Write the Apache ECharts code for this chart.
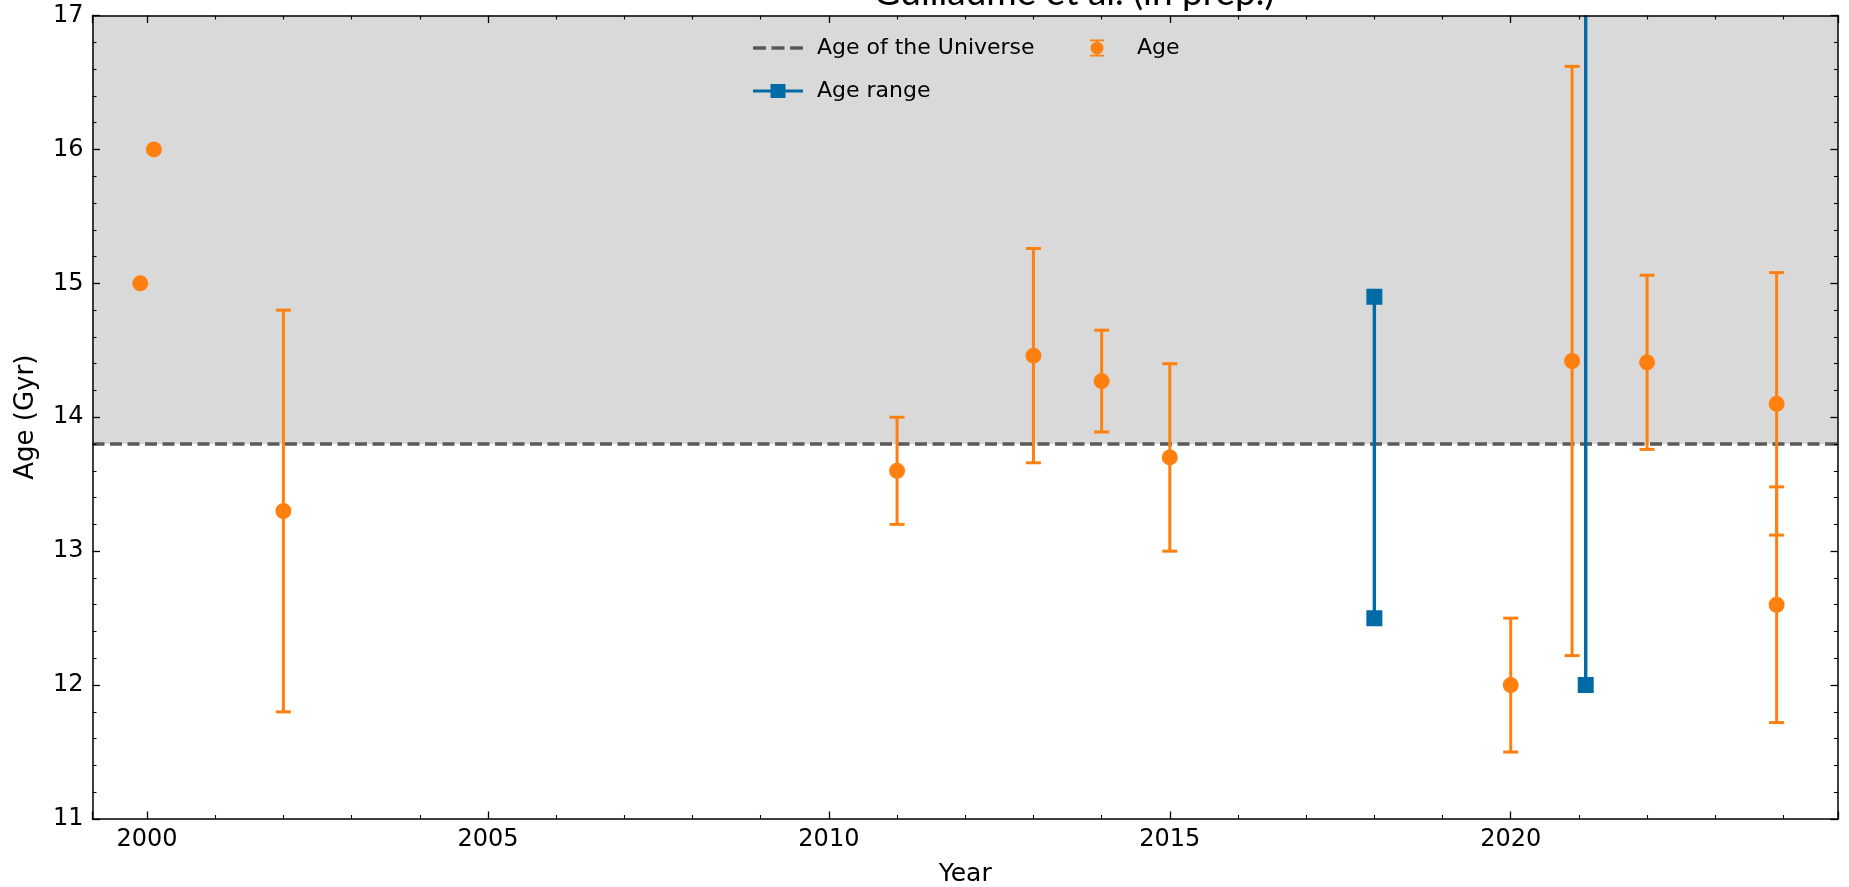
<!DOCTYPE html>
<html>
<head>
<meta charset="utf-8">
<script src="https://cdn.jsdelivr.net/npm/echarts@6/dist/echarts.min.js"></script>
<style>
html,body{margin:0;padding:0;background:#fff;}
#chart{width:1849px;height:887px;}
</style>
</head>
<body>
<div id="chart"></div>
<script>
// ---- data ----
const ageYears  = [1999.9, 2000.1, 2002, 2011, 2013, 2014, 2015, 2020, 2020.9, 2022, 2023.9, 2023.9];
const ageValues = [15.0, 16.0, 13.3, 13.6, 14.46, 14.27, 13.7, 12.0, 14.42, 14.41, 14.1, 12.6];
const ageErrors = [0, 0, 1.5, 0.4, 0.8, 0.38, 0.7, 0.5, 2.2, 0.65, 0.98, 0.88];

const rangeYears = [2018, 2021.1];
const rangeLow   = [12.5, 12.0];
const rangeHigh  = [14.9, 17.5];

const universeAge = 13.8;
const xLimits = [1999.2, 2024.8];
const yLimits = [11, 17];
const titleText = 'Guillaume et al. (in prep.)';

// ---- styling ----
const ORANGE = '#FF800E';
const BLUE = '#006BA4';
const GRAY = '#595959';
const SHADE = '#d9d9d9';

const chart = echarts.init(document.getElementById('chart'), null, {renderer: 'canvas'});

const ageData = ageYears.map((x, i) => [x, ageValues[i], ageErrors[i]]);
const rangeData = rangeYears.map((x, i) => [x, rangeLow[i], rangeHigh[i]]);
const universeData = [[xLimits[0], universeAge], [xLimits[1], universeAge]];

function errorBarItem(params, api) {
  const x = api.value(0), y = api.value(1), e = api.value(2);
  const c = api.coord([x, y]);
  const children = [];
  if (e > 0) {
    const hi = api.coord([x, y + e]);
    const lo = api.coord([x, y - e]);
    const st = {stroke: ORANGE, lineWidth: 3};
    children.push({type: 'line', shape: {x1: hi[0], y1: hi[1], x2: lo[0], y2: lo[1]}, style: st});
    children.push({type: 'line', shape: {x1: hi[0] - 7.5, y1: hi[1], x2: hi[0] + 7.5, y2: hi[1]}, style: st});
    children.push({type: 'line', shape: {x1: lo[0] - 7.5, y1: lo[1], x2: lo[0] + 7.5, y2: lo[1]}, style: st});
  }
  children.push({type: 'circle', shape: {cx: c[0], cy: c[1], r: 8}, style: {fill: ORANGE}});
  return {type: 'group', children: children};
}

function rangeItem(params, api) {
  const x = api.value(0);
  const lo = api.coord([x, api.value(1)]);
  const hi = api.coord([x, api.value(2)]);
  const s = 16;
  return {
    type: 'group',
    children: [
      {type: 'line', shape: {x1: lo[0], y1: lo[1], x2: hi[0], y2: hi[1]}, style: {stroke: BLUE, lineWidth: 3.4}},
      {type: 'rect', shape: {x: lo[0] - s / 2, y: lo[1] - s / 2, width: s, height: s}, style: {fill: BLUE}},
      {type: 'rect', shape: {x: hi[0] - s / 2, y: hi[1] - s / 2, width: s, height: s}, style: {fill: BLUE}}
    ]
  };
}

const iconUniverse = 'path://M0,0H13H13V3.4H0Z M18.5,0H31.5V3.4H18.5Z M37,0H50V3.4H37Z';
const iconRange = 'path://M0,5.7H50V8.5H0Z M17.5,0H32.5V14.2H17.5Z';
const iconAge = 'path://M0,0H14V1.8H0Z M6.1,0H7.9V3H6.1Z M0,15.2H14V17H0Z M6.1,14H7.9V17H6.1Z M0.5,8.5A6.5,6.5 0 1,1 13.5,8.5A6.5,6.5 0 1,1 0.5,8.5Z';

const tickFont = {fontFamily: 'DejaVu Sans', fontSize: 24, color: '#000'};
const axisLine = {show: true, onZero: false, lineStyle: {color: '#000', width: 1.5}};
const majorTick = {show: true, inside: true, length: 7.5, lineStyle: {color: '#000', width: 1.3}};
const minorTick = {show: true, splitNumber: 5, length: 4, lineStyle: {color: '#000', width: 1.1}};
const legendText = {fontFamily: 'DejaVu Sans', fontSize: 22, color: '#000'};

const option = {
  animation: false,
  backgroundColor: '#fff',
  grid: {left: 92.5, right: 11, top: 15.5, bottom: 68, containLabel: false, outerBoundsMode: 'none'},
  graphic: [{
    type: 'text',
    z: 100,
    style: {
      x: 1074, y: 12,
      text: titleText,
      textAlign: 'center', textVerticalAlign: 'bottom',
      font: '37px Lato', fill: '#000'
    }
  }],
  legend: [
    {
      orient: 'vertical', left: 748, top: 32,
      itemWidth: 50, itemHeight: 17, itemGap: 21,
      textStyle: Object.assign({padding: [0, 0, 0, 9]}, legendText),
      data: [
        {name: 'Age of the Universe', icon: iconUniverse, itemStyle: {color: GRAY}},
        {name: 'Age range', icon: iconRange, itemStyle: {color: BLUE}}
      ],
      selectedMode: false
    },
    {
      orient: 'vertical', left: 1085, top: 32,
      itemWidth: 52, itemHeight: 17,
      textStyle: Object.assign({padding: [0, 0, 0, 9]}, legendText),
      data: [{name: 'Age', icon: iconAge, itemStyle: {color: ORANGE}}],
      selectedMode: false
    }
  ],
  xAxis: [
    {
      type: 'value', min: xLimits[0], max: xLimits[1], position: 'bottom', z: 10,
      name: 'Year', nameLocation: 'middle', nameGap: 43,
      nameTextStyle: {fontFamily: 'DejaVu Sans', fontSize: 25, color: '#000'},
      axisLine: axisLine, axisTick: majorTick, minorTick: minorTick,
      splitLine: {show: false}, minorSplitLine: {show: false},
      axisLabel: Object.assign({margin: 9, showMinLabel: false, showMaxLabel: false,
        formatter: v => String(Math.round(v))}, tickFont)
    },
    {
      type: 'value', min: xLimits[0], max: xLimits[1], position: 'top', z: 10,
      axisLine: axisLine, axisTick: majorTick, minorTick: minorTick,
      splitLine: {show: false}, axisLabel: {show: false}
    }
  ],
  yAxis: [
    {
      type: 'value', min: yLimits[0], max: yLimits[1], interval: 1, position: 'left', z: 10,
      name: 'Age (Gyr)', nameLocation: 'middle', nameGap: 53,
      nameTextStyle: {fontFamily: 'DejaVu Sans', fontSize: 26, color: '#000'},
      axisLine: axisLine, axisTick: majorTick, minorTick: minorTick,
      splitLine: {show: false}, minorSplitLine: {show: false},
      axisLabel: Object.assign({margin: 9}, tickFont)
    },
    {
      type: 'value', min: yLimits[0], max: yLimits[1], interval: 1, position: 'right', z: 10,
      axisLine: axisLine, axisTick: majorTick, minorTick: minorTick,
      splitLine: {show: false}, axisLabel: {show: false}
    }
  ],
  series: [
    {
      name: 'Age of the Universe', type: 'line', z: 3,
      data: universeData, symbol: 'none', silent: true,
      lineStyle: {color: GRAY, width: 3.6, type: [12, 5.5]},
      itemStyle: {color: GRAY},
      markArea: {
        silent: true,
        itemStyle: {color: SHADE},
        data: [[{yAxis: universeAge}, {yAxis: yLimits[1]}]]
      }
    },
    {
      name: 'Age range', type: 'custom', z: 4, clip: true,
      renderItem: rangeItem, data: rangeData,
      encode: {x: 0, y: [1, 2]}, itemStyle: {color: BLUE}
    },
    {
      name: 'Age', type: 'custom', z: 5, clip: false,
      renderItem: errorBarItem, data: ageData,
      encode: {x: 0, y: 1}, itemStyle: {color: ORANGE}
    }
  ]
};
chart.setOption(option);
</script>
</body>
</html>
